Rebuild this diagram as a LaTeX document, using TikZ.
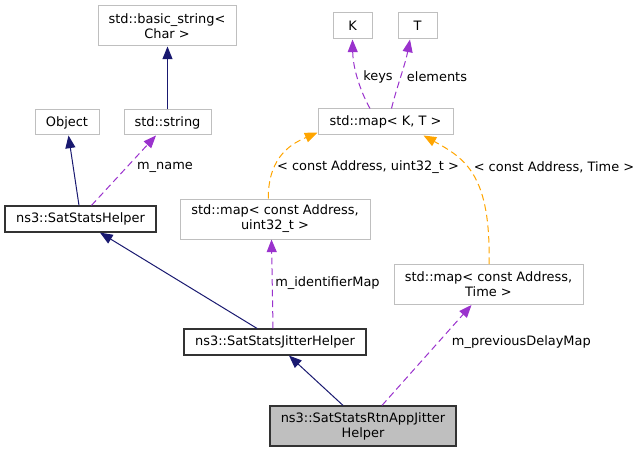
\documentclass[tikz,border=0pt]{standalone}
\usepackage{fontspec}
\setmainfont{DejaVu Sans}
\usetikzlibrary{arrows.meta,calc}
\definecolor{navyedge}{HTML}{191970}
\definecolor{purpleedge}{HTML}{9A32CD}
\definecolor{orangeedge}{HTML}{FFA500}
\definecolor{lightborder}{HTML}{BFBFBF}
\definecolor{darkborder}{HTML}{333333}
\definecolor{curfill}{HTML}{BFBFBF}
\begin{document}
\begin{tikzpicture}[x=0.75pt,y=-0.75pt,
  font=\fontsize{9.7}{11.25}\selectfont,
  box/.style={draw=lightborder,line width=0.75pt,rectangle,inner sep=0pt,align=center,fill=white},
  docbox/.style={box,draw=darkborder,line width=0.9pt},
  curbox/.style={box,draw=darkborder,line width=0.9pt,fill=curfill},
  inherit/.style={draw=navyedge,line width=0.75pt,-{Triangle[length=9.5pt,width=7.5pt]}},
  usage/.style={draw=purpleedge,line width=0.75pt,dash pattern=on 5pt off 3pt,-{Triangle[length=9.5pt,width=7.5pt]}},
  templ/.style={draw=orangeedge,line width=0.75pt,dash pattern=on 5pt off 3pt,-{Triangle[length=9.5pt,width=7.5pt]}},
  lbl/.style={inner sep=0pt}]
\useasboundingbox (0,0) rectangle (641,452);
% nodes
\node[box,minimum width=138*0.75pt,minimum height=40*0.75pt] (bstr) at (167,26) {std::basic\_string<\\Char >};
\node[box,minimum width=64*0.75pt,minimum height=25*0.75pt] (obj) at (67,122.5) {Object};
\node[box,minimum width=87*0.75pt,minimum height=25*0.75pt] (str) at (167.5,122.5) {std::string};
\node[docbox,minimum width=151*0.75pt,minimum height=26*0.75pt] (ssh) at (80.5,219) {ns3::SatStatsHelper};
\node[box,minimum width=190*0.75pt,minimum height=40*0.75pt] (mapu) at (275,219) {std::map< const Address,\\uint32\_t >};
\node[box,minimum width=39*0.75pt,minimum height=26*0.75pt] (K) at (352.5,26) {K};
\node[box,minimum width=39*0.75pt,minimum height=26*0.75pt] (T) at (417.5,26) {T};
\node[box,minimum width=135*0.75pt,minimum height=26*0.75pt] (mapKT) at (385.5,122) {std::map< K, T >};
\node[box,minimum width=189*0.75pt,minimum height=40*0.75pt] (mapt) at (488.5,284.5) {std::map< const Address,\\Time >};
\node[docbox,minimum width=182*0.75pt,minimum height=26*0.75pt] (jit) at (275,342) {ns3::SatStatsJitterHelper};
\node[curbox,minimum width=186*0.75pt,minimum height=40*0.75pt] (rtn) at (363,426) {ns3::SatStatsRtnAppJitter\\Helper};
% edges
\draw[inherit] (str.north) -- (str.north |- bstr.south);
\draw[inherit] ($(ssh.north)+(-1.5,0)$) -- ($(obj.south)+(1.5,0)$);
\draw[usage] ($(ssh.north)+(11,0)$) -- ($(str.south)+(-11.5,0)$);
\draw[inherit] ($(jit.north)+(-18,0)$) -- ($(ssh.south)+(19.5,0)$);
\draw[usage] ($(jit.north)+(-2,0)$) -- ($(mapu.south)+(-3.5,0)$);
\draw[inherit] ($(rtn.north)+(-20,0)$) -- ($(jit.south)+(14,0)$);
\draw[usage] ($(rtn.north)+(19,0)$) -- ($(mapt.south)+(-17,0)$);
\draw[usage] ($(mapKT.north)+(-15.5,0)$) .. controls ($(mapKT.north)+(-23.5,-14)$) and ($(K.south)+(0.5,31)$) .. (K.south);
\draw[usage] ($(mapKT.north)+(6,0)$) .. controls ($(mapKT.north)+(10.5,-19)$) and ($(T.south)+(-12.5,26)$) .. ($(T.south)+(-7.5,0)$);
\draw[templ] ($(mapu.north)+(-6.7,0)$) .. controls ($(mapu.north)+(-7,-44)$) and ($(mapKT.south west)+(-23,7)$) .. ($(mapKT.south west)+(0,-3)$);
\draw[templ] ($(mapt.north)+(0.5,0)$) .. controls ($(mapt.north)+(2.5,-89.5)$) and ($(mapKT.south)+(79.5,23)$) .. ($(mapKT.south)+(38,0)$);
% labels
\node[lbl] (lname) at (165,167) {m\_name};
\node[lbl,anchor=west] (lident) at (275,283) {m\_identifierMap};
\node[lbl,anchor=west] (lprev) at (451.7,341.7) {m\_previousDelayMap};
\node[lbl] (lkeys) at (378,77) {keys};
\node[lbl] (lelem) at (437,77) {elements};
\node[lbl] (lu32) at (368,167) {< const Address, uint32\_t >};
\node[lbl] (ltime) at (554,167) {< const Address, Time >};
\end{tikzpicture}
\end{document}
